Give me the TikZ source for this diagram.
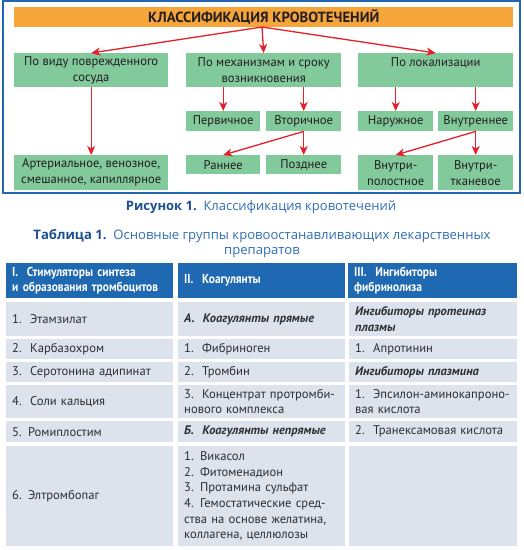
\documentclass[tikz,border=0pt]{standalone}
\usepackage{fontspec}
\setmainfont{PT Sans}
\newfontfamily\capfont{Open Sans}
\newfontfamily\narrowsans[FakeStretch=0.88]{PT Sans}
\usetikzlibrary{arrows.meta}
\definecolor{frameblue}{HTML}{2366B0}
\definecolor{titleor}{HTML}{F6A53B}
\definecolor{boxgreen}{HTML}{82C99B}
\definecolor{arrred}{HTML}{E5202A}
\definecolor{darktext}{HTML}{231F20}
\definecolor{celltext}{HTML}{2E2E33}
\definecolor{capdark}{HTML}{1C4F95}
\definecolor{caplight}{HTML}{2F6DB5}
\definecolor{headblue}{HTML}{1F68B2}
\definecolor{cellfill}{HTML}{DCE3EC}
\begin{document}
\begin{tikzpicture}[x=1pt,y=-1pt,
  gbox/.style={fill=boxgreen, anchor=north west, inner sep=0pt, align=center,
     font=\fontsize{12.6}{16}\selectfont, text=darktext},
  arr/.style={draw=arrred, line width=1.3pt, -{Stealth[length=9pt,width=8pt,inset=2.5pt]}},
  hcell/.style={fill=headblue, anchor=north west, inner xsep=6pt, inner ysep=0pt, align=left,
     text=white, font=\narrowsans\fontsize{13}{15}\selectfont\bfseries},
  cell/.style={fill=cellfill, anchor=north west, inner xsep=6pt, inner ysep=0pt, align=left,
     text=celltext, font=\fontsize{12.6}{15.6}\selectfont},
  bi/.style={font=\fontsize{12.4}{15.6}\selectfont\bfseries\itshape}
]
\useasboundingbox (0,0) rectangle (524,550);
\fill[white] (0,0) rectangle (524,550);
% frame
\draw[frameblue, line width=1.5pt] (3,1) rectangle (520,193);
% title
\node[fill=titleor, anchor=north west, inner sep=0pt, minimum width=499, minimum height=20,
  font=\fontsize{14.7}{16}\selectfont\bfseries, text=darktext] (title) at (14,7) {КЛАССИФИКАЦИЯ КРОВОТЕЧЕНИЙ};
% level 1
\node[gbox, minimum width=154, minimum height=34] (vid) at (14,53) {По виду поврежденного\\сосуда};
\node[gbox, minimum width=155, minimum height=34] (mech) at (186,53) {По механизмам и сроку\\возникновения};
\node[gbox, minimum width=155, minimum height=34] (lok) at (358,53) {По локализации\\\mbox{}};
% level 2
\node[gbox, minimum width=74, minimum height=20] (perv) at (186,111) {Первичное};
\node[gbox, minimum width=75, minimum height=20] (vtor) at (266,111) {Вторичное};
\node[gbox, minimum width=75, minimum height=20] (nar) at (358,111) {Наружное};
\node[gbox, minimum width=75, minimum height=20] (vnut) at (438,111) {Внутреннее};
% level 3
\node[gbox, minimum width=154, minimum height=35] (art) at (14,155) {Артериальное, венозное,\\смешанное, капиллярное};
\node[gbox, minimum width=74, minimum height=19] (ran) at (186,155) {Раннее};
\node[gbox, minimum width=75, minimum height=19] (poz) at (266,155) {Позднее};
\node[gbox, minimum width=75, minimum height=35] (vpol) at (358,155) {Внутри-\\полостное};
\node[gbox, minimum width=75, minimum height=35] (vtk) at (438,155) {Внутри-\\тканевое};
% arrows
\coordinate (ts) at (262,27);
\draw[arr] (ts) -- (vid.north);
\draw[arr] (ts) -- (mech.north);
\draw[arr] (ts) -- (lok.north);
\draw[arr] (vid.south) -- (art.north);
\draw[arr] (perv.north |- mech.south) -- (perv.north);
\draw[arr] (vtor.north |- mech.south) -- (vtor.north);
\draw[arr] (vtor.south) -- (ran.north);
\draw[arr] (vtor.south) -- (poz.north);
\draw[arr] (nar.north |- lok.south) -- (nar.north);
\draw[arr] (vnut.north |- lok.south) -- (vnut.north);
\draw[arr] (vnut.south) -- (vpol.north);
\draw[arr] (vnut.south) -- (vtk.north);
% captions
\node[font=\capfont\fontsize{13}{14}\selectfont] (cap1) at (261,207)
  {\textcolor{capdark}{\bfseries Рисунок 1.}\ \ \textcolor{caplight}{Классификация кровотечений}};
\node[font=\capfont\fontsize{13.1}{15}\selectfont, align=center] (cap2) at (262,244)
  {\textcolor{capdark}{\bfseries Таблица 1.}\ \ \textcolor{caplight}{Основные группы кровоостанавливающих лекарственных}\\\textcolor{caplight}{препаратов}};
% table header
\node[hcell, minimum width=167, minimum height=35, text width=155] (h1) at (6,263) {I.\ \ Стимуляторы синтеза\\и образования тромбоцитов};
\node[hcell, minimum width=167, minimum height=35, text width=155] (h2) at (178,263) {II.\ \ Коагулянты};
\node[hcell, minimum width=169, minimum height=35, text width=157] (h3) at (348,263) {III.\ \ Ингибиторы\\фибринолиза};
% row 1
\node[cell, minimum width=167, minimum height=34, text width=155] (r11) at (6,302) {1.\ \ Этамзилат};
\node[cell, bi, minimum width=167, minimum height=34, text width=155] (r12) at (178,302) {А.\ \ Коагулянты прямые};
\node[cell, bi, minimum width=168, minimum height=34, text width=156] (r13) at (349,302) {Ингибиторы протеиназ\\плазмы};
% row 2
\node[cell, minimum width=167, minimum height=20, text width=155] (r21) at (6,339) {2.\ \ Карбазохром};
\node[cell, minimum width=167, minimum height=20, text width=155] (r22) at (178,339) {1.\ \ Фибриноген};
\node[cell, minimum width=168, minimum height=20, text width=156] (r23) at (349,339) {1.\ \ Апротинин};
% row 3
\node[cell, minimum width=167, minimum height=20, text width=155] (r31) at (6,362) {3.\ \ Серотонина адипинат};
\node[cell, minimum width=167, minimum height=20, text width=155] (r32) at (178,362) {2.\ \ Тромбин};
\node[cell, bi, minimum width=168, minimum height=20, text width=156] (r33) at (349,362) {Ингибиторы плазмина};
% row 4
\node[cell, minimum width=167, minimum height=33, text width=155] (r41) at (6,385) {4.\ \ Соли кальция};
\node[cell, minimum width=167, minimum height=33, text width=155] (r42) at (178,385) {3.\ \ Концентрат протромби-\\нового комплекса};
\node[cell, minimum width=168, minimum height=33, text width=156] (r43) at (349,385) {1.\ \ Эпсилон-аминокапроно-\\вая кислота};
% row 5
\node[cell, minimum width=167, minimum height=21, text width=155] (r51) at (6,421) {5. Ромиплостим};
\node[cell, bi, minimum width=167, minimum height=21, text width=155] (r52) at (178,421) {Б.\ \ Коагулянты непрямые};
\node[cell, minimum width=168, minimum height=21, text width=156] (r53) at (349,421) {2.\ \ Транексамовая кислота};
% row 6
\node[cell, minimum width=167, minimum height=100, text width=155] (r61) at (6,446) {6. Элтромбопаг};
\node[cell, minimum width=167, minimum height=100, text width=155] (r62) at (178,446) {1. Викасол\\2. Фитоменадион\\3. Протамина сульфат\\4. Гемостатические сред-\\ства на основе желатина,\\коллагена, целлюлозы};
\node[cell, minimum width=168, minimum height=100, text width=156] (r63) at (349,446) {};
\end{tikzpicture}
\end{document}
